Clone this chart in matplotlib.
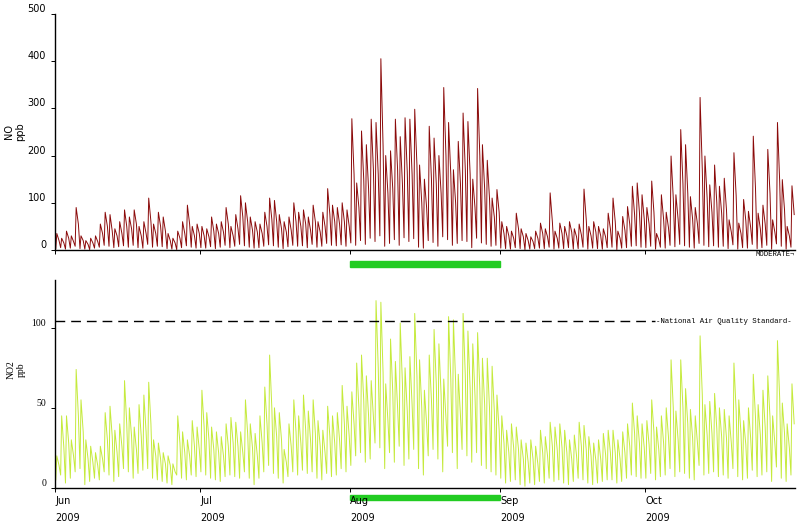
# coding=utf-8
import numpy as np
import pandas as pd
import matplotlib
matplotlib.use("Agg")
import matplotlib.pyplot as plt
import matplotlib.dates as mdates
from matplotlib.patches import Rectangle

# daily values, Jun 1 - Oct 31 2009 (ppb)
start_day = "2009-06-01"
month_ticks = ["2009-06-01", "2009-07-01", "2009-08-01", "2009-09-01", "2009-10-01"]
month_labels = ["Jun\n2009", "Jul\n2009", "Aug\n2009", "Sep\n2009", "Oct\n2009"]
x_range = ["2009-06-01", "2009-11-01"]
highlight = ["2009-08-01", "2009-09-01"]
no2_standard = 104

no_low = [3, 5, 2, 4, 8, 3, 2, 1, 4, 6, 10, 8, 5, 7, 9, 6, 10, 5, 4, 12, 6, 8, 7, 3, 2, 1, 5, 9, 6, 4,
          5, 4, 7, 3, 6, 10, 5, 8, 12, 9, 6, 4, 5, 8, 11, 9, 6, 3, 7, 10, 8, 9, 5, 12, 6, 8, 14, 10, 9, 11, 8,
          15, 10, 20, 12, 25, 18, 30, 8, 14, 22, 10, 26, 18, 24, 6, 4, 20, 16, 8, 28, 22, 10, 14, 20, 18, 5, 25, 15, 12, 8, 10,
          4, 3, 2, 5, 3, 1, 2, 3, 4, 3, 6, 2, 4, 3, 5, 2, 3, 6, 2, 4, 3, 2, 5, 6, 1, 4, 5, 8, 9, 6,
          5, 8, 2, 6, 4, 10, 7, 12, 9, 6, 4, 14, 10, 7, 9, 6, 8, 3, 11, 2, 5, 4, 12, 3, 5, 10, 2, 13, 8, 2, 6]
no_peak = [35, 25, 40, 30, 90, 30, 20, 25, 30, 55, 80, 75, 45, 60, 85, 70, 85, 50, 60, 110, 55, 80, 70, 35, 25, 40, 60, 95, 50, 55,
           50, 45, 70, 55, 60, 90, 50, 75, 115, 100, 70, 60, 55, 80, 110, 105, 75, 60, 70, 100, 80, 85, 70, 95, 60, 80, 130, 95, 90, 100, 85,
           278, 142, 252, 223, 277, 270, 405, 200, 210, 277, 240, 280, 277, 298, 180, 150, 262, 237, 200, 344, 270, 170, 230, 290, 272, 150, 342, 223, 190, 110, 128,
           60, 50, 40, 78, 45, 35, 28, 40, 57, 45, 121, 40, 57, 50, 60, 45, 55, 129, 50, 60, 50, 45, 78, 110, 40, 71, 92, 135, 142, 117,
           90, 146, 35, 117, 80, 199, 117, 255, 223, 113, 90, 323, 199, 138, 180, 135, 152, 64, 206, 57, 107, 82, 241, 78, 95, 213, 64, 270, 149, 50, 136]
no_evening = [20, 15, 25, 18, 55, 20, 12, 15, 18, 35, 50, 40, 30, 35, 50, 45, 55, 30, 35, 60, 35, 50, 40, 20, 15, 25, 35, 55, 30, 35,
              30, 28, 40, 35, 38, 55, 30, 45, 70, 60, 42, 38, 35, 50, 65, 60, 45, 38, 42, 60, 50, 55, 42, 60, 38, 50, 75, 60, 55, 60, 50,
              160, 90, 150, 130, 170, 160, 220, 120, 130, 170, 140, 165, 160, 180, 100, 90, 150, 140, 120, 200, 160, 100, 140, 170, 160, 90, 200, 130, 110, 70, 80,
              35, 30, 25, 45, 28, 20, 18, 25, 35, 28, 60, 25, 35, 30, 38, 28, 32, 65, 30, 38, 30, 28, 45, 60, 25, 42, 55, 75, 80, 65,
              55, 80, 22, 65, 48, 110, 65, 140, 120, 65, 55, 170, 110, 80, 100, 78, 85, 38, 115, 35, 62, 48, 130, 45, 55, 120, 38, 145, 85, 30, 75]

no2_low = [5, 8, 3, 6, 10, 12, 2, 4, 6, 5, 10, 8, 4, 7, 12, 10, 6, 9, 11, 12, 6, 5, 4, 3, 2, 8, 6, 5, 8, 7,
           10, 8, 6, 5, 4, 7, 8, 7, 6, 10, 6, 2, 6, 10, 14, 9, 6, 3, 7, 10, 8, 11, 9, 10, 6, 5, 9, 7, 8, 12, 10,
           14, 20, 22, 16, 18, 28, 25, 12, 22, 16, 26, 14, 18, 24, 12, 8, 20, 24, 18, 10, 26, 22, 12, 24, 20, 16, 22, 14, 12, 10, 8,
           6, 3, 4, 5, 2, 1, 3, 2, 4, 3, 6, 4, 5, 3, 2, 4, 6, 5, 3, 2, 3, 4, 5, 5, 3, 4, 6, 8, 7, 6,
           6, 9, 5, 7, 8, 12, 7, 10, 9, 6, 5, 14, 8, 9, 10, 7, 8, 6, 12, 7, 5, 6, 11, 7, 8, 10, 4, 13, 6, 4, 8]
no2_peak = [20, 45, 45, 30, 74, 55, 30, 26, 22, 26, 47, 51, 36, 40, 67, 50, 38, 52, 58, 66, 30, 28, 22, 20, 15, 45, 35, 30, 42, 38,
            61, 47, 38, 35, 32, 40, 44, 41, 35, 55, 40, 34, 45, 63, 83, 50, 47, 24, 40, 55, 45, 58, 48, 55, 42, 36, 51, 45, 47, 64, 51,
            60, 78, 83, 70, 67, 117, 116, 65, 93, 79, 103, 75, 82, 109, 80, 61, 83, 99, 90, 68, 107, 105, 71, 109, 98, 90, 97, 81, 81, 76, 58,
            45, 36, 40, 38, 30, 28, 30, 26, 36, 32, 41, 38, 40, 36, 30, 33, 41, 39, 32, 28, 30, 34, 36, 36, 30, 35, 40, 53, 45, 40,
            42, 55, 38, 45, 50, 80, 48, 80, 62, 49, 45, 95, 52, 54, 59, 50, 49, 45, 78, 55, 42, 50, 71, 52, 61, 70, 45, 92, 53, 40, 65]
no2_evening = [14, 25, 28, 20, 45, 35, 18, 16, 14, 18, 30, 32, 22, 26, 40, 32, 24, 32, 35, 40, 20, 18, 15, 14, 10, 28, 22, 20, 26, 24,
               38, 30, 24, 22, 20, 26, 28, 26, 22, 34, 25, 20, 28, 40, 50, 32, 30, 16, 26, 35, 28, 36, 30, 34, 26, 22, 32, 28, 30, 40, 32,
               40, 50, 55, 45, 44, 75, 72, 42, 60, 50, 65, 48, 52, 70, 50, 40, 55, 65, 58, 44, 68, 66, 45, 70, 62, 58, 62, 52, 50, 48, 36,
               28, 22, 25, 24, 18, 16, 18, 15, 22, 20, 26, 24, 25, 22, 18, 20, 26, 24, 20, 17, 18, 21, 22, 22, 18, 22, 26, 34, 28, 25,
               27, 35, 24, 28, 32, 50, 30, 50, 40, 31, 28, 58, 33, 34, 37, 32, 31, 28, 48, 34, 27, 31, 44, 33, 38, 44, 28, 56, 34, 25, 40]

# low at night, morning peak, evening value
hours = [3, 8, 19]
days = pd.date_range(start_day, periods=len(no_peak), freq="D")
t = np.array([d + pd.Timedelta(hours=h) for d in days for h in hours])
no = np.column_stack([no_low, no_peak, no_evening]).ravel()
no2 = np.column_stack([no2_low, no2_peak, no2_evening]).ravel()

fig = plt.figure(figsize=(8, 5.32), dpi=100)
ax1 = fig.add_axes([0.069, 0.530, 0.925, 0.444])
ax2 = fig.add_axes([0.069, 0.083, 0.925, 0.391])

ax1.plot(t, no, color="#8b0a0a", lw=0.7)
ax2.plot(t, no2, color="#c5ea3c", lw=0.7)

xlo, xhi = pd.to_datetime(x_range)
ticks = pd.to_datetime(month_ticks)
for ax in (ax1, ax2):
    ax.set_xlim(xlo, xhi)
    for s in ("top", "right"):
        ax.spines[s].set_visible(False)
    ax.spines["left"].set_linewidth(1.0)
    ax.spines["bottom"].set_linewidth(1.0)
    ax.set_xticks(ticks)
    ax.tick_params(axis="both", direction="out", length=3, width=0.7, labelsize=7)

ax1.set_xticklabels([])
ax2.set_xticklabels(month_labels, ha="left", linespacing=1.9)
ax2.tick_params(axis="x", pad=3)

ax1.set_ylim(0, 500)
ax1.set_yticks([0, 100, 200, 300, 400, 500])
ax2.set_ylim(0, 130)
ax2.set_yticks([0, 50, 100])
for lab in ax1.get_yticklabels():
    lab.set_va("bottom")
for lab in ax2.get_yticklabels():
    lab.set_va("bottom")
    lab.set_family("Liberation Serif")

ax1.set_ylabel("NO\nppb", fontsize=7)
ax1.yaxis.set_label_coords(-0.040, 0.5)
ax2.set_ylabel("NO2\nppb", fontsize=7, family="Liberation Serif")
ax2.yaxis.set_label_coords(-0.040, 0.57)

# standard line and labels
ax2.axhline(no2_standard, xmax=0.81, color="black", lw=1.0, ls=(0, (7, 4.3)))
ax2.text(0.812, no2_standard, "-National Air Quality Standard-", transform=ax2.get_yaxis_transform(),
         family="Liberation Mono", fontsize=5.3, va="center", ha="left")
ax1.text(0.999, -0.003, "MODERATE\u00ac", transform=ax1.transAxes,
         family="Liberation Mono", fontsize=5.2, va="top", ha="right")

# green bars marking August
h0, h1 = mdates.date2num(pd.to_datetime(highlight))
ax1.add_patch(Rectangle((h0, -0.072), h1 - h0, 0.025, transform=ax1.get_xaxis_transform(),
                        color="#22cc22", clip_on=False))
ax2.add_patch(Rectangle((h0, -0.058), h1 - h0, 0.026, transform=ax2.get_xaxis_transform(),
                        color="#22cc22", clip_on=False))

fig.savefig("out.png", dpi=100)
